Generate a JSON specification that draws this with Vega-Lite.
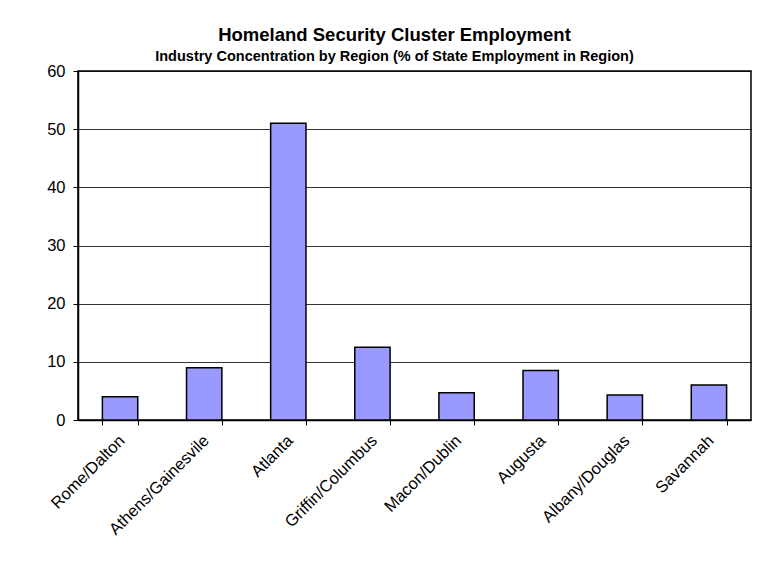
{
  "$schema": "https://vega.github.io/schema/vega-lite/v6.json",
  "autosize": {"type": "none"},
  "padding": {"left": 78, "top": 71, "right": 23, "bottom": 154},
  "width": 673,
  "height": 349,
  "background": "white",
  "title": {
    "text": "Homeland Security Cluster Employment",
    "subtitle": "Industry Concentration by Region (% of State Employment in Region)",
    "font": "Liberation Sans",
    "fontSize": 18.5,
    "fontWeight": "bold",
    "subtitleFont": "Liberation Sans",
    "subtitleFontSize": 14.5,
    "subtitleFontWeight": "bold",
    "subtitleColor": "black",
    "subtitlePadding": 5,
    "color": "black",
    "anchor": "middle",
    "dx": -20,
    "offset": 0
  },
  "data": {
    "values": [
      {"region": "Rome/Dalton", "value": 4.0},
      {"region": "Athens/Gainesvile", "value": 9.0},
      {"region": "Atlanta", "value": 51.0},
      {"region": "Griffin/Columbus", "value": 12.5},
      {"region": "Macon/Dublin", "value": 4.7},
      {"region": "Augusta", "value": 8.5},
      {"region": "Albany/Douglas", "value": 4.3},
      {"region": "Savannah", "value": 6.0}
    ]
  },
  "mark": {"type": "bar", "fill": "#9999FF", "stroke": "black", "strokeWidth": 1.5},
  "encoding": {
    "x": {
      "field": "region",
      "type": "nominal",
      "sort": null,
      "scale": {"paddingInner": 0.58, "paddingOuter": 0.29},
      "axis": {
        "title": null,
        "labelAngle": -45,
        "labelAlign": "right",
        "labelBaseline": "top",
        "labelFont": "Liberation Sans",
        "labelFontSize": 16.5,
        "labelColor": "black",
        "labelPadding": 7,
        "labelOffset": -4,
        "tickBand": "extent",
        "tickColor": "black",
        "tickSize": 5,
        "domainColor": "black",
        "domainWidth": 1.5,
        "grid": false
      }
    },
    "y": {
      "field": "value",
      "type": "quantitative",
      "scale": {"domain": [0, 60], "nice": false},
      "axis": {
        "title": null,
        "values": [0, 10, 20, 30, 40, 50, 60],
        "labelFont": "Liberation Sans",
        "labelFontSize": 16.5,
        "labelColor": "black",
        "labelPadding": 8,
        "tickColor": "black",
        "tickSize": 5,
        "domainColor": "black",
        "domainWidth": 1.5,
        "grid": true,
        "gridColor": "black",
        "gridWidth": 0.8
      }
    }
  },
  "config": {
    "view": {"stroke": "black", "strokeWidth": 1.5}
  }
}
